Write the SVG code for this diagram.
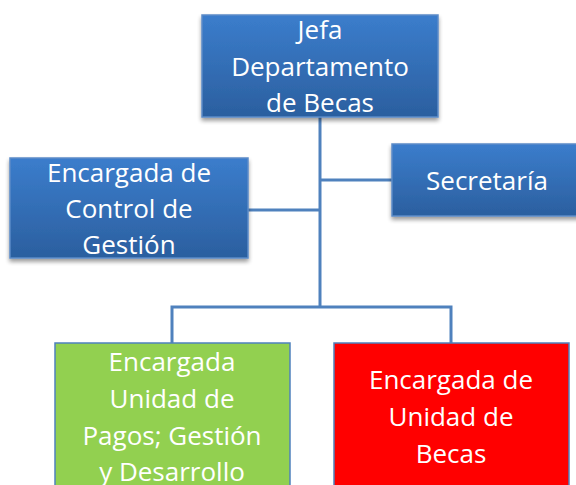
<svg xmlns="http://www.w3.org/2000/svg" width="576" height="485" viewBox="0 0 576 485">
<defs>
<linearGradient id="blue" x1="0" y1="0" x2="0" y2="1">
<stop offset="0" stop-color="#3b7dcc"/>
<stop offset="1" stop-color="#2b5f9f"/>
</linearGradient>
<filter id="sh" x="-10%" y="-10%" width="120%" height="130%">
<feGaussianBlur in="SourceAlpha" stdDeviation="2"/>
<feOffset dx="0" dy="3"/>
<feComponentTransfer><feFuncA type="linear" slope="0.4"/></feComponentTransfer>
<feMerge><feMergeNode/><feMergeNode in="SourceGraphic"/></feMerge>
</filter>
</defs>
<style>
.b{fill:url(#blue);stroke:#5b8bc8;stroke-width:1.5;filter:url(#sh)}
.g{fill:#92d050;stroke:#4f81bd;stroke-width:1.5}
.r{fill:#ff0000;stroke:#4f81bd;stroke-width:1.5}
.t{font-family:"Open Sans","Liberation Sans",sans-serif;font-size:26px;fill:#ffffff;text-anchor:middle}
.c{fill:none;stroke:#4f81bd;stroke-width:3}
</style>
<g id="connectors">
<path class="c" d="M320 117 V307"/>
<path class="c" d="M320 180 H392"/>
<path class="c" d="M248 210 H320"/>
<path class="c" d="M172 343 V307 H451 V343"/>
</g>
<g id="jefa">
<rect class="b" x="202" y="15" width="236" height="102"/>
<text class="t" x="320" y="39">Jefa</text>
<text class="t" x="320" y="76">Departamento</text>
<text class="t" x="320" y="112">de Becas</text>
</g>
<g id="control">
<rect class="b" x="10" y="158" width="238" height="100"/>
<text class="t" x="129" y="182">Encargada de</text>
<text class="t" x="129" y="218">Control de</text>
<text class="t" x="129" y="254">Gestión</text>
</g>
<g id="secretaria">
<rect class="b" x="392" y="144" width="190" height="72"/>
<text class="t" x="487" y="190">Secretaría</text>
</g>
<g id="pagos">
<rect class="g" x="55" y="343" width="235" height="150"/>
<text class="t" x="172" y="371">Encargada</text>
<text class="t" x="172" y="408">Unidad de</text>
<text class="t" x="172" y="445">Pagos; Gestión</text>
<text class="t" x="172" y="481">y Desarrollo</text>
</g>
<g id="becas">
<rect class="r" x="334" y="343" width="235" height="150"/>
<text class="t" x="451" y="389">Encargada de</text>
<text class="t" x="451" y="426">Unidad de</text>
<text class="t" x="451" y="463">Becas</text>
</g>
</svg>
